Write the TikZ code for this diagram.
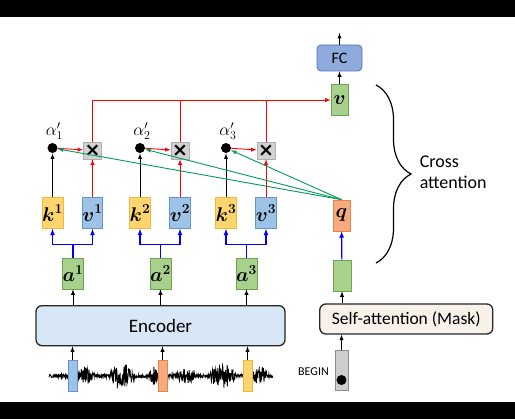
\documentclass[tikz,border=0pt]{standalone}
\usepackage{amsmath}
\usepackage{amssymb}
\usepackage{graphicx}
\usepackage{fontspec}
\setmainfont{Carlito}
\newfontfamily\symfont{DejaVu Sans}
\usetikzlibrary{positioning,shapes,arrows}
\usetikzlibrary{decorations.pathreplacing}

\definecolor{kfill}{RGB}{255,214,110}
\definecolor{kdraw}{RGB}{240,185,60}
\definecolor{vfill}{RGB}{157,195,230}
\definecolor{vdraw}{RGB}{100,150,205}
\definecolor{afill}{RGB}{169,209,142}
\definecolor{adraw}{RGB}{112,165,80}
\definecolor{qfill}{RGB}{246,170,125}
\definecolor{qdraw}{RGB}{235,130,70}
\definecolor{fcfill}{RGB}{143,170,220}
\definecolor{fcdraw}{RGB}{80,115,190}
\definecolor{xfill}{RGB}{210,210,210}
\definecolor{xdraw}{RGB}{175,175,175}
\definecolor{encfill}{RGB}{216,231,245}
\definecolor{safill}{RGB}{247,241,233}
\definecolor{bfill}{RGB}{205,205,205}
\definecolor{wgreen}{RGB}{0,155,90}

\newcommand{\vecsym}[1]{\scalebox{1.15}{$\boldsymbol{#1}$}}

\begin{document}
\begin{tikzpicture}[x=1pt,y=1pt,node distance=40pt,line width=.9pt,
  box/.style={draw,line width=.7pt,inner sep=0pt,minimum width=17pt,minimum height=31pt,font=\fontsize{17}{17}\selectfont},
  kbox/.style={box,fill=kfill,draw=kdraw},
  vbox/.style={box,fill=vfill,draw=vdraw},
  abox/.style={box,fill=afill,draw=adraw,minimum width=18pt},
  qbox/.style={box,fill=qfill,draw=qdraw},
  xbox/.style={draw=xdraw,fill=xfill,line width=.7pt,inner sep=0pt,minimum width=18pt,minimum height=17pt,font=\symfont\bfseries\fontsize{19}{19}\selectfont},
  dot/.style={circle,fill=black,inner sep=0pt,minimum size=10pt},
  bar/.style={inner sep=0pt,minimum width=9pt,minimum height=30.5pt,line width=.5pt},
  block/.style={draw=black!85,line width=1.3pt,rounded corners=6pt,inner sep=0pt}]
\useasboundingbox (0,0) rectangle (515,419);
\fill[black] (0,402) rectangle (515,419);
\fill[black] (0,0) rectangle (515,16.5);
%
\fill (52.5,206) node[kbox] (K1) {\vecsym{k^1}};
\fill (0,0) node[vbox,right of=K1] (V1) {\vecsym{v^1}};
\fill (0,0) node[dot,above of=K1,yshift=25pt] (D1) {};
\fill (0,0) node[xbox,above of=V1,yshift=22.5pt] (X1) {×};
\fill (0,0) node[abox,below of=K1,xshift=20.5pt,yshift=-20.5pt] (A1) {\vecsym{a^1}};
\fill (0,0) node[above of=D1,xshift=2pt,yshift=-23pt,font=\fontsize{17}{17}\selectfont] (L1) {$\alpha'_1$};
%
\fill (140,206) node[kbox] (K2) {\vecsym{k^2}};
\fill (0,0) node[vbox,right of=K2] (V2) {\vecsym{v^2}};
\fill (0,0) node[dot,above of=K2,yshift=25pt] (D2) {};
\fill (0,0) node[xbox,above of=V2,yshift=22.5pt] (X2) {×};
\fill (0,0) node[abox,below of=K2,xshift=20.5pt,yshift=-20.5pt] (A2) {\vecsym{a^2}};
\fill (0,0) node[above of=D2,xshift=2pt,yshift=-23pt,font=\fontsize{17}{17}\selectfont] (L2) {$\alpha'_2$};
%
\fill (226,206) node[kbox] (K3) {\vecsym{k^3}};
\fill (0,0) node[vbox,right of=K3] (V3) {\vecsym{v^3}};
\fill (0,0) node[dot,above of=K3,yshift=25pt] (D3) {};
\fill (0,0) node[xbox,above of=V3,yshift=22.5pt] (X3) {×};
\fill (0,0) node[abox,below of=K3,xshift=20.5pt,yshift=-20.5pt] (A3) {\vecsym{a^3}};
\fill (0,0) node[above of=D3,xshift=2pt,yshift=-23pt,font=\fontsize{17}{17}\selectfont] (L3) {$\alpha'_3$};
%
\fill (339.5,319) node[abox,minimum width=17pt] (V) {\vecsym{v}};
\fill (0,0) node[above of=V,yshift=2pt,draw=fcdraw,fill=fcfill,line width=.8pt,rounded corners=4pt,minimum width=45pt,minimum height=26pt,font=\fontsize{16}{16}\selectfont] (FC) {FC};
\coordinate (out) at (339.5,386);
\fill (341.5,203.5) node[qbox] (Q) {\vecsym{q}};
\fill (342,143.5) node[abox] (G0) {};
\fill (406.3,100) node[block,fill=safill,minimum width=173pt,minimum height=30pt,font=\fontsize{17.5}{17.5}\selectfont] (SA) {Self-attention (Mask)};
\fill (160.5,93.3) node[block,fill=encfill,minimum width=249pt,minimum height=40pt,font=\fontsize{19}{19}\selectfont] (Enc) {Encoder};
\fill (341.5,49) node[draw=black!45,fill=bfill,line width=.6pt,inner sep=0pt,minimum width=13pt,minimum height=40pt] (B) {};
\fill (0,0) node[dot,below of=B,yshift=30pt] (Bdot) {};
\fill (0,0) node[left of=B,xshift=12pt,yshift=-1.7pt,font=\fontsize{12}{12}\selectfont] (BT) {BEGIN};
\fill (416,247) node[anchor=west,align=left,font=\fontsize{18}{21}\selectfont] (CA) {Cross\\attention};
%
\pgfmathsetseed{7}
\draw[line width=.85pt] plot[domain=49:273,samples=650] (\x,{43+(2*rnd-1)*(1.8
  +6.5*max(0,1-((\x-85)/10)^2)+11*max(0,1-((\x-122)/13)^2)+7.5*max(0,1-((\x-154)/5)^2)
  +5.5*max(0,1-((\x-186)/10)^2)+10.5*max(0,1-((\x-222)/14)^2)+8.5*max(0,1-((\x-260)/8)^2))});
\fill (72.5,43) node[bar,fill=vfill,draw=vdraw] (I1) {};
\fill (162.5,43) node[bar,fill=qfill,draw=qdraw] (I2) {};
\fill (247.5,43) node[bar,fill=kfill,draw=kdraw] (I3) {};
%
\draw[decorate,decoration={brace,amplitude=35pt},line width=1.2pt] (376,334) -- (376,156);
%
{
\pgfsetarrows{-latex}
\path (K1) edge[] (D1);
\path (K2) edge[] (D2);
\path (K3) edge[] (D3);
\path (A1 |- Enc.north) edge[] (A1);
\path (A2 |- Enc.north) edge[] (A2);
\path (A3 |- Enc.north) edge[] (A3);
\path (I1) edge[] (I1 |- Enc.south);
\path (I2) edge[] (I2 |- Enc.south);
\path (I3) edge[] (I3 |- Enc.south);
\path (G0 |- SA.north) edge[] (G0);
\path (B) edge[] (B |- SA.south);
\path (V) edge[] (FC);
\path (FC) edge[] (out);
%
\path (D1) edge[red] (X1);
\path (D2) edge[red] (X2);
\path (D3) edge[red] (X3);
\path (V1) edge[red] (X1);
\path (V2) edge[red] (X2);
\path (V3) edge[red] (X3);
%
\path (Q.north) edge[wgreen] (D1);
\path (Q.north) edge[wgreen] (D2);
\path (Q.north) edge[wgreen] (D3);
%
\path (G0) edge[blue,line width=1.2pt] (Q);
}
\draw[red,-latex] (X1.north) |- (V.west);
\draw[red] (X2.north) -- (X2.north |- V.west);
\draw[red] (X3.north) -- (X3.north |- V.west);
%
\draw[blue,-latex,line width=1.2pt] (A1.north) -- ++(0,13) -| (K1.south);
\draw[blue,-latex,line width=1.2pt] (A1.north) -- ++(0,13) -| (V1.south);
\draw[blue,-latex,line width=1.2pt] (A2.north) -- ++(0,13) -| (K2.south);
\draw[blue,-latex,line width=1.2pt] (A2.north) -- ++(0,13) -| (V2.south);
\draw[blue,-latex,line width=1.2pt] (A3.north) -- ++(0,13) -| (K3.south);
\draw[blue,-latex,line width=1.2pt] (A3.north) -- ++(0,13) -| (V3.south);
\end{tikzpicture}
\end{document}
